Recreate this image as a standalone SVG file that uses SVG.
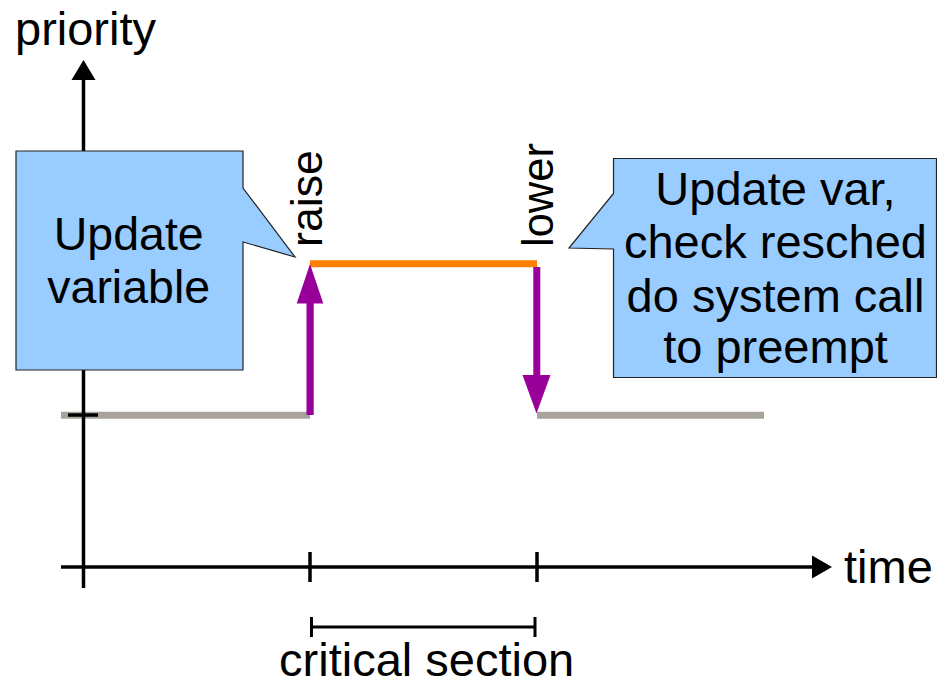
<svg xmlns="http://www.w3.org/2000/svg" width="937" height="684" viewBox="0 0 937 684">
<style>
text{font-family:"Liberation Sans",Arial,sans-serif;fill:#000}
.lbl{font-size:47px}
.ax{stroke:#000;stroke-width:3.5;fill:none}
.callout{fill:#99ccff;stroke:#222;stroke-width:1.2}
.pr{fill:#990099}
</style>
<rect width="937" height="684" fill="#fff"/>
<g id="connectors">
  <line x1="61" y1="415.3" x2="310" y2="415.3" stroke="#a9a39e" stroke-width="7"/>
  <line x1="537" y1="415.3" x2="764" y2="415.3" stroke="#a9a39e" stroke-width="7"/>
  <g id="axes">
    <line class="ax" x1="83.5" y1="78" x2="83.5" y2="588"/>
    <polygon points="83.5,60 71.5,80 95.5,80" fill="#000"/>
    <line class="ax" x1="61" y1="567" x2="814" y2="567"/>
    <polygon points="832,567 812,555.5 812,578.5" fill="#000"/>
    <line class="ax" x1="68" y1="415" x2="98" y2="415"/>
    <line class="ax" x1="310" y1="552" x2="310" y2="582"/>
    <line class="ax" x1="537" y1="552" x2="537" y2="582"/>
    <line class="ax" x1="311.5" y1="627" x2="535" y2="627" style="stroke-width:3"/>
    <line class="ax" x1="311.5" y1="617" x2="311.5" y2="637" style="stroke-width:3"/>
    <line class="ax" x1="535" y1="617" x2="535" y2="637" style="stroke-width:3"/>
  </g>
  <line x1="310" y1="263.7" x2="537" y2="263.7" stroke="#ff8000" stroke-width="7"/>
  <rect class="pr" x="306.5" y="300" width="7.2" height="115"/>
  <polygon class="pr" points="310,264 296.7,303.5 323.3,303.5"/>
  <rect class="pr" x="533.3" y="267" width="7" height="110"/>
  <polygon class="pr" points="536.5,413.5 522.5,375 550.5,375"/>
</g>
<g id="left-callout">
  <path class="callout" d="M16,151 H243 V188 L295,257 L243,242 V370 H16 Z"/>
  <text class="lbl" x="128.7" y="250" text-anchor="middle" style="font-size:46.5px">Update</text>
  <text class="lbl" x="128.7" y="303" text-anchor="middle" style="font-size:46.5px">variable</text>
</g>
<g id="right-callout">
  <path class="callout" d="M613.5,158.5 H936.5 V377.5 H613.5 V249 L569,248 L613.5,193.5 Z"/>
  <text class="lbl" x="775.5" y="205" text-anchor="middle">Update var,</text>
  <text class="lbl" x="775.5" y="258" text-anchor="middle">check resched</text>
  <text class="lbl" x="775.5" y="311.5" text-anchor="middle">do system call</text>
  <text class="lbl" x="775.5" y="363" text-anchor="middle">to preempt</text>
</g>
<g id="labels">
  <text class="lbl" x="15" y="44.5">priority</text>
  <text class="lbl" x="844" y="583">time</text>
  <text class="lbl" x="426.7" y="676" text-anchor="middle">critical section</text>
  <text transform="translate(322,247) rotate(-90)" style="font-size:44.7px">raise</text>
  <text transform="translate(553,247) rotate(-90)" style="font-size:43.5px">lower</text>
</g>
</svg>
